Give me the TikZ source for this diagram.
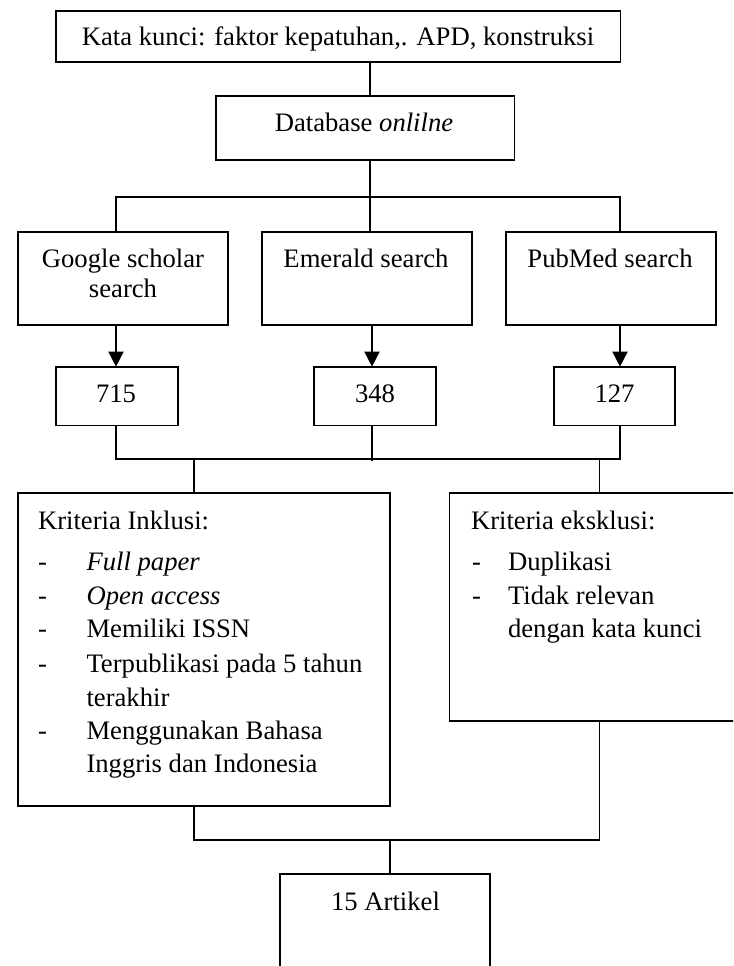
\documentclass[tikz,border=0pt]{standalone}
\usepackage{fontspec}
\setmainfont{Liberation Serif}
\usetikzlibrary{arrows.meta}
\begin{document}
\begin{tikzpicture}[x=0.45pt,y=-0.45pt,
  box/.style={draw,line width=0.75pt,inner sep=0pt,outer sep=0pt},
  txt/.style={inner sep=0pt,outer sep=0pt,font=\fontsize{12}{14}\selectfont},
  conn/.style={line width=0.75pt},
  arr/.style={conn,-{Triangle[width=6.8pt,length=6.8pt]}}]
\useasboundingbox (0,0) rectangle (733,966);
\clip (0,0) rectangle (733,966);

% boxes
\node[box,minimum width=254.1pt,minimum height=22.8pt] (kw) at (338.3,36.35) {};
\node[box,minimum width=134.3pt,minimum height=28.9pt] (db) at (365.25,127.85) {};
\node[box,minimum width=94.6pt,minimum height=42.1pt] (gs) at (122.9,278.5) {};
\node[box,minimum width=94.6pt,minimum height=42.1pt] (em) at (366.85,278.5) {};
\node[box,minimum width=94.6pt,minimum height=42.1pt] (pm) at (610.8,278.5) {};
\node[box,minimum width=54.9pt,minimum height=26.4pt] (n715) at (117,396) {};
\node[box,minimum width=54.9pt,minimum height=26.4pt] (n348) at (375,396) {};
\node[box,minimum width=54.6pt,minimum height=26.4pt] (n127) at (614.35,396) {};
\node[box,minimum width=167.5pt,minimum height=140.85pt] (inc) at (203.9,649.2) {};
\node[box,minimum width=133pt,minimum height=102.6pt] (exc) at (597.25,606.7) {};
\node[box,minimum width=94.6pt,minimum height=47.6pt] (art) at (385.15,927.15) {};

% texts
\node[txt,anchor=base] (kwt) at (338,46) {Kata kunci: faktor kepatuhan,. APD, konstruksi};
\node[txt,anchor=base] (dbt) at (364,132) {Database \textit{onlilne}};
\node[txt,anchor=base] (gst1) at (123,267.3) {Google scholar};
\node[txt,anchor=base] (gst2) at (123,297.3) {search};
\node[txt,anchor=base] (emt) at (366,267.3) {Emerald search};
\node[txt,anchor=base] (pmt) at (610,267.3) {PubMed search};
\node[txt,anchor=base] (t715) at (116,402.7) {715};
\node[txt,anchor=base] (t348) at (375,402.7) {348};
\node[txt,anchor=base] (t127) at (614.5,402.7) {127};

\node[txt,anchor=base west] (inct) at (38,529) {Kriteria Inklusi:};
\node[txt,anchor=base west] (incd1) at (38,570) {-};
\node[txt,anchor=base west] (inci1) at (86.5,570) {\textit{Full paper}};
\node[txt,anchor=base west] (incd2) at (38,604) {-};
\node[txt,anchor=base west] (inci2) at (86.5,604) {\textit{Open access}};
\node[txt,anchor=base west] (incd3) at (38,637.3) {-};
\node[txt,anchor=base west] (inci3) at (86.5,637.3) {Memiliki ISSN};
\node[txt,anchor=base west] (incd4) at (38,672.3) {-};
\node[txt,anchor=base west] (inci4) at (86.5,672.3) {Terpublikasi pada 5 tahun};
\node[txt,anchor=base west] (inci4b) at (86.5,706) {terakhir};
\node[txt,anchor=base west] (incd5) at (38,739.3) {-};
\node[txt,anchor=base west] (inci5) at (86.5,739.3) {Menggunakan Bahasa};
\node[txt,anchor=base west] (inci5b) at (86.5,772.7) {Inggris dan Indonesia};

\node[txt,anchor=base west] (exct) at (471,529) {Kriteria eksklusi:};
\node[txt,anchor=base west] (excd1) at (472,570) {-};
\node[txt,anchor=base west] (exci1) at (508,570) {Duplikasi};
\node[txt,anchor=base west] (excd2) at (472,604) {-};
\node[txt,anchor=base west] (exci2) at (508,604) {Tidak relevan};
\node[txt,anchor=base west] (exci2b) at (508,637.3) {dengan kata kunci};

\node[txt,anchor=base] (artt) at (385.5,910) {15 Artikel};

% connectors
\coordinate (c1) at (370,0);
\draw[conn] (kw.south -| c1) -- (db.north -| c1);
\coordinate (jT) at (370,197.3);
\coordinate (jTL) at (116,197.3);
\coordinate (jTR) at (620,197.3);
\draw[conn] (db.south -| jT) -- (jT);
\draw[conn] (gs.north -| jTL) -- (jTL) -- (jTR) -- (pm.north -| jTR);
\draw[conn] (jT) -- (em.north -| jT);

\coordinate (aL) at (116,0);
\coordinate (aM) at (372,0);
\coordinate (aR) at (620,0);
\draw[arr] (gs.south -| aL) -- (n715.north -| aL);
\draw[arr] (em.south -| aM) -- (n348.north -| aM);
\draw[arr] (pm.south -| aR) -- (n127.north -| aR);

\coordinate (jBL) at (116,458.7);
\coordinate (jBM) at (372,460.5);
\coordinate (jBR) at (620,458.7);
\draw[conn] (n715.south -| jBL) -- (jBL) -- (jBR) -- (n127.south -| jBR);
\draw[conn] (n348.south -| jBM) -- (jBM);

\coordinate (bL) at (194,458.7);
\coordinate (bR) at (599.5,458.7);
\draw[conn] (bL) -- (inc.north -| bL);
\draw[conn] (bR) -- (exc.north -| bR);

\coordinate (kL) at (194,840);
\coordinate (kR) at (599.5,840);
\coordinate (kM) at (390,840);
\draw[conn] (inc.south -| kL) -- (kL) -- (kR) -- (exc.south -| kR);
\draw[conn] (kM) -- (art.north -| kM);
\end{tikzpicture}
\end{document}
